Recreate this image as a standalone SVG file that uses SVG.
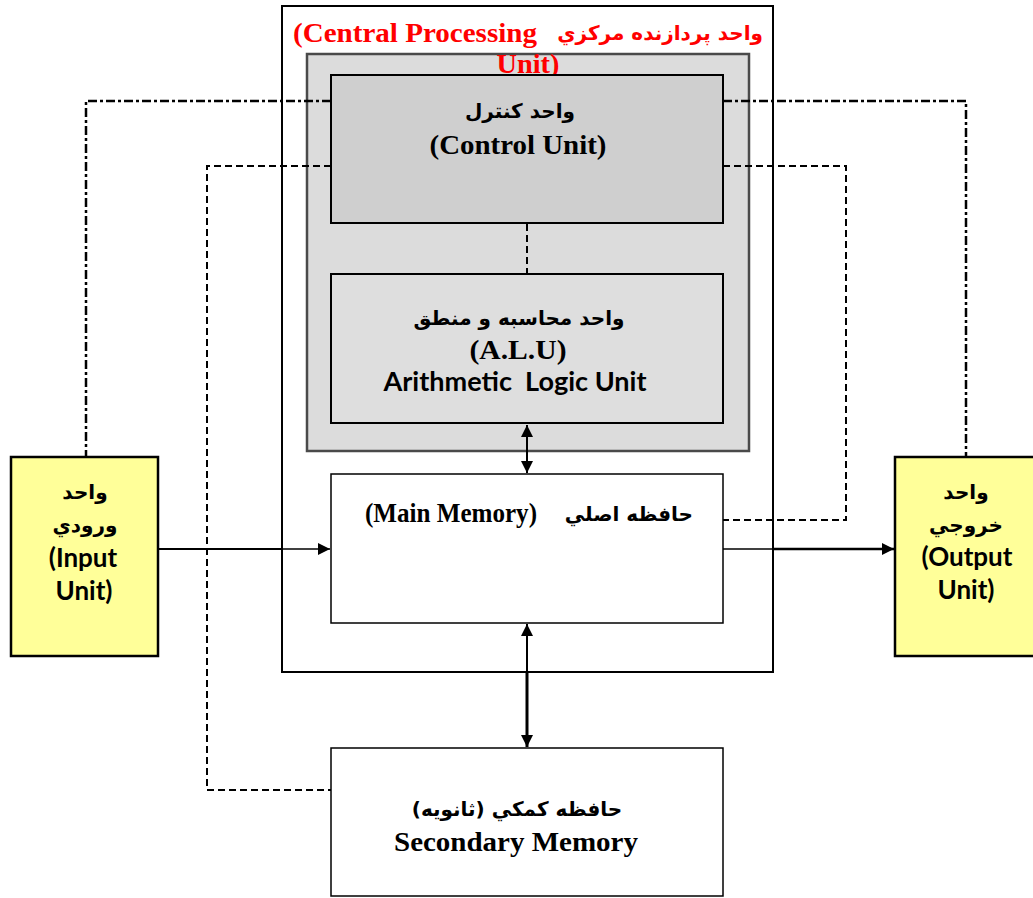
<svg xmlns="http://www.w3.org/2000/svg" width="1033" height="898" viewBox="0 0 1033 898">
<defs>
<style>
.en{font-family:"Liberation Serif","DejaVu Serif",serif;font-weight:bold;font-size:27px;fill:#000}
.fa{font-family:"DejaVu Sans","Noto Sans",sans-serif;font-weight:bold;font-size:20px;fill:#000}
.cal{font-family:Lato,"Open Sans",sans-serif;font-weight:bold;font-size:26px;fill:#000}
.red{fill:#ff0000}
.box{stroke:#000;stroke-width:2}
.dd{fill:none;stroke:#000;stroke-width:2.5;stroke-dasharray:9 3 3 3}
.ds{fill:none;stroke:#000;stroke-width:2;stroke-dasharray:7 4}
.ln{fill:none;stroke:#000}
</style>
<marker id="ah" viewBox="0 0 10 10" refX="10" refY="5" markerWidth="12" markerHeight="12" markerUnits="userSpaceOnUse" orient="auto-start-reverse">
<path d="M0,0 L10,5 L0,10 z" fill="#000"/>
</marker>
</defs>
<rect width="1033" height="898" fill="#fff"/>

<g id="cpu">
<rect x="282" y="6" width="491" height="666" fill="#fff" class="box"/>
<rect x="307" y="54" width="442" height="397" fill="#dcdcdc" stroke="#4a4a4a" stroke-width="2.5"/>
<text class="en red" x="293" y="42" font-size="28" textLength="244" lengthAdjust="spacingAndGlyphs">(Central Processing</text>
<text class="fa red" x="763" y="40" text-anchor="end" font-size="21">واحد پردازنده مرکزي</text>
<text class="en red" x="528" y="73" text-anchor="middle" font-size="28" textLength="63" lengthAdjust="spacingAndGlyphs">Unit)</text>
</g>

<g id="control-unit">
<rect x="331" y="75" width="392" height="148" fill="#cfcfcf" class="box"/>
<text class="fa" x="520" y="118" text-anchor="middle" font-size="21">واحد کنترل</text>
<text class="en" x="518" y="154" text-anchor="middle" textLength="177" lengthAdjust="spacingAndGlyphs">(Control Unit)</text>
</g>

<g id="alu">
<rect x="331" y="274" width="392" height="149" fill="#dedede" class="box"/>
<text class="fa" x="519" y="325" text-anchor="middle" font-size="21">واحد محاسبه و منطق</text>
<text class="en" x="518" y="359" text-anchor="middle" textLength="97" lengthAdjust="spacingAndGlyphs">(A.L.U)</text>
<text class="cal" x="515" y="391" text-anchor="middle" xml:space="preserve" textLength="263" lengthAdjust="spacingAndGlyphs">Arithmetic  Logic Unit</text>
</g>

<g id="main-memory">
<rect x="331" y="474" width="392" height="149" fill="#fff" stroke="#000" stroke-width="1.5"/>
<text class="en" x="365" y="522" font-size="25" textLength="172" lengthAdjust="spacingAndGlyphs">(Main Memory)</text>
<text class="fa" x="693" y="521" text-anchor="end" font-size="22">حافظه اصلي</text>
</g>

<g id="secondary-memory">
<rect x="331" y="748" width="392" height="148" fill="#fff" stroke="#000" stroke-width="1.5"/>
<text class="fa" x="517" y="816" text-anchor="middle" direction="rtl" font-size="21">حافظه کمکي (ثانويه)</text>
<text class="en" x="516" y="851" text-anchor="middle" textLength="244" lengthAdjust="spacingAndGlyphs">Secondary Memory</text>
</g>

<g id="input-unit">
<rect x="11" y="457" width="147" height="199" fill="#ffff99" stroke="#000" stroke-width="2.5"/>
<text class="fa" x="85" y="499" text-anchor="middle" font-size="21">واحد</text>
<text class="fa" x="85" y="532" text-anchor="middle" font-size="21">ورودي</text>
<text class="cal" x="83" y="567" text-anchor="middle">(Input</text>
<text class="cal" x="84" y="600" text-anchor="middle">Unit)</text>
</g>

<g id="output-unit">
<rect x="895" y="457" width="140" height="199" fill="#ffff99" stroke="#000" stroke-width="2.5"/>
<text class="fa" x="966" y="499" text-anchor="middle" font-size="21">واحد</text>
<text class="fa" x="966" y="532" text-anchor="middle" font-size="21">خروجي</text>
<text class="cal" x="967" y="566" text-anchor="middle">(Output</text>
<text class="cal" x="966" y="599" text-anchor="middle">Unit)</text>
</g>

<g id="connectors">
<path class="dd" d="M331,101 H86 V457"/>
<path class="dd" d="M723,101 H966 V457"/>
<path class="ds" d="M331,166 H207 V790 H331"/>
<path class="ds" d="M723,166 H846 V520 H723"/>
<path class="ds" d="M527,224 V274"/>
<path class="ln" stroke-width="2" d="M527,425 V473" marker-start="url(#ah)" marker-end="url(#ah)"/>
<path class="ln" stroke-width="2" d="M527,624 V672" marker-start="url(#ah)"/>
<path class="ln" stroke-width="3" d="M527,672 V747" marker-end="url(#ah)"/>
<path class="ln" stroke-width="2" d="M158,549 H282"/>
<path class="ln" stroke-width="1.5" d="M282,549 H330" marker-end="url(#ah)"/>
<path class="ln" stroke-width="1.5" d="M723,549 H773"/>
<path class="ln" stroke-width="2.5" d="M773,549 H894" marker-end="url(#ah)"/>
</g>
</svg>
